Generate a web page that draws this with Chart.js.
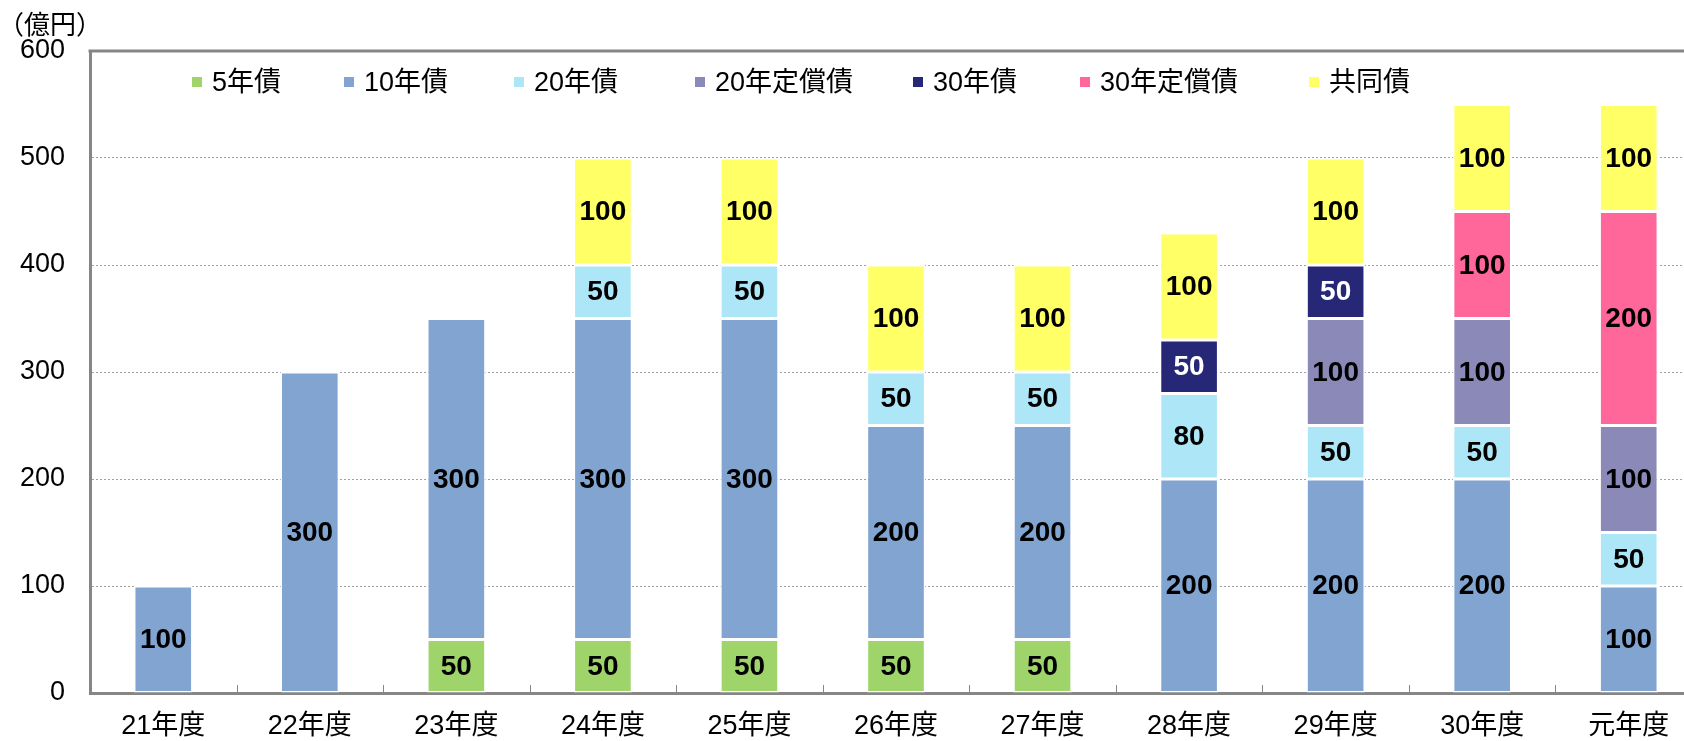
<!DOCTYPE html>
<html>
<head>
<meta charset="utf-8">
<script src="https://cdn.jsdelivr.net/npm/chart.js@4"></script>
<style>
  body { margin: 0; overflow: hidden; background: #fff; }
  #wrap { position: relative; width: 1704px; height: 741px; }
</style>
</head>
<body>
<div id="wrap"><canvas id="bond-chart"></canvas></div>
<script>
// data
const years = ['21年度', '22年度', '23年度', '24年度', '25年度', '26年度', '27年度', '28年度', '29年度', '30年度', '元年度'];
const bond5 = [null, null, 50, 50, 50, 50, 50, null, null, null, null];
const bond10 = [100, 300, 300, 300, 300, 200, 200, 200, 200, 200, 100];
const bond20 = [null, null, null, 50, 50, 50, 50, 80, 50, 50, 50];
const bond20fixed = [null, null, null, null, null, null, null, null, 100, 100, 100];
const bond30 = [null, null, null, null, null, null, null, 50, 50, null, null];
const bond30fixed = [null, null, null, null, null, null, null, null, null, 100, 200];
const jointBond = [null, null, null, 100, 100, 100, 100, 100, 100, 100, 100];
const yTicks = [0, 100, 200, 300, 400, 500, 600];

const FONT = "'Liberation Sans', Arial, 'Noto Sans CJK JP', sans-serif";
const AXIS_GRAY = '#868686';

// legend x positions (pixels) as in the original
const legendX = [192, 344, 514, 695, 913, 1080, 1309];

function series(label, data, color, textColor) {
    return {
        label: label,
        data: data,
        backgroundColor: color,
        borderColor: '#ffffff',
        borderWidth: 1.5,
        borderSkipped: false,
        barPercentage: 0.4,
        categoryPercentage: 1.0,
        labelColor: textColor || '#000000',
    };
}

const data = {
    labels: years,
    datasets: [
        series('5年債', bond5, '#9fd46a'),
        series('10年債', bond10, '#82a4d1'),
        series('20年債', bond20, '#ade6f6'),
        series('20年定償債', bond20fixed, '#8a89b8'),
        series('30年債', bond30, '#262777', '#ffffff'),
        series('30年定償債', bond30fixed, '#ff6699'),
        series('共同債', jointBond, '#ffff66'),
    ]
};

// values inside segments, legend, unit label, frame
const extras = {
    id: 'extras',
    beforeDatasetsDraw(chart) {
        const ctx = chart.ctx;
        const area = chart.chartArea;
        const x = chart.scales.x;
        const step = x.getPixelForValue(1) - x.getPixelForValue(0);
        ctx.save();
        ctx.strokeStyle = AXIS_GRAY;
        ctx.lineWidth = 1;
        for (let i = 0; i < years.length; i++) {
            const bx = Math.round(x.getPixelForValue(i) + step / 2) + 0.5;
            ctx.beginPath();
            ctx.moveTo(bx, area.bottom - 8);
            ctx.lineTo(bx, area.bottom);
            ctx.stroke();
        }
        ctx.restore();
    },
    afterDatasetsDraw(chart) {
        const ctx = chart.ctx;
        ctx.save();
        ctx.font = 'bold 28px ' + FONT;
        ctx.textAlign = 'center';
        ctx.textBaseline = 'middle';
        chart.data.datasets.forEach((ds, i) => {
            const meta = chart.getDatasetMeta(i);
            meta.data.forEach((bar, j) => {
                const v = ds.data[j];
                if (v === null) return;
                ctx.fillStyle = ds.labelColor;
                ctx.fillText(String(v), bar.x, (bar.y + bar.base) / 2 + 1);
            });
        });
        ctx.restore();
    },
    afterDraw(chart) {
        const ctx = chart.ctx;
        const area = chart.chartArea;
        ctx.save();
        // top frame line
        ctx.strokeStyle = AXIS_GRAY;
        ctx.lineWidth = 3;
        ctx.beginPath();
        ctx.moveTo(area.left - 1.5, area.top);
        ctx.lineTo(area.right, area.top);
        ctx.stroke();
        // unit
        ctx.fillStyle = '#000';
        ctx.font = "26px 'Noto Sans CJK JP', sans-serif";
        ctx.textBaseline = 'middle';
        ctx.textAlign = 'left';
        ctx.fillText('（億円）', -2, 24);
        // legend
        ctx.font = '27px ' + FONT;
        chart.data.datasets.forEach((ds, i) => {
            const lx = legendX[i];
            ctx.fillStyle = ds.backgroundColor;
            ctx.fillRect(lx, 77, 10, 10);
            ctx.fillStyle = '#000';
            ctx.fillText(ds.label, lx + 20, 84);
        });
        ctx.restore();
    }
};

const config = {
    type: 'bar',
    data,
    plugins: [extras],
    options: {
        responsive: true,
        maintainAspectRatio: false,
        animation: false,
        layout: {
            padding: { top: 51, right: 2, left: 0, bottom: 0 }
        },
        plugins: {
            legend: { display: false },
            tooltip: { enabled: false }
        },
        scales: {
            x: {
                stacked: true,
                grid: { display: false, drawTicks: false },
                border: { color: AXIS_GRAY, width: 3 },
                ticks: {
                    color: '#000',
                    font: { family: FONT, size: 27 },
                    padding: 17,
                    maxRotation: 0,
                    autoSkip: false
                },
                afterFit(scale) { scale.height = 48; }
            },
            y: {
                stacked: true,
                min: 0,
                max: 600,
                afterBuildTicks(scale) {
                    scale.ticks = yTicks.map(v => ({ value: v }));
                },
                grid: {
                    drawTicks: false,
                    lineWidth: 1,
                    color: ctx => (ctx.tick && (ctx.tick.value === 0 || ctx.tick.value === 600)) ? 'rgba(0,0,0,0)' : '#a0a0a0'
                },
                border: { color: AXIS_GRAY, width: 3, dash: [2, 2] },
                ticks: {
                    color: '#000',
                    font: { family: FONT, size: 27 },
                    padding: 25
                },
                afterFit(scale) { scale.width = 90; }
            }
        }
    }
};

const bondChart = new Chart(document.getElementById('bond-chart'), config);
</script>
</body>
</html>
